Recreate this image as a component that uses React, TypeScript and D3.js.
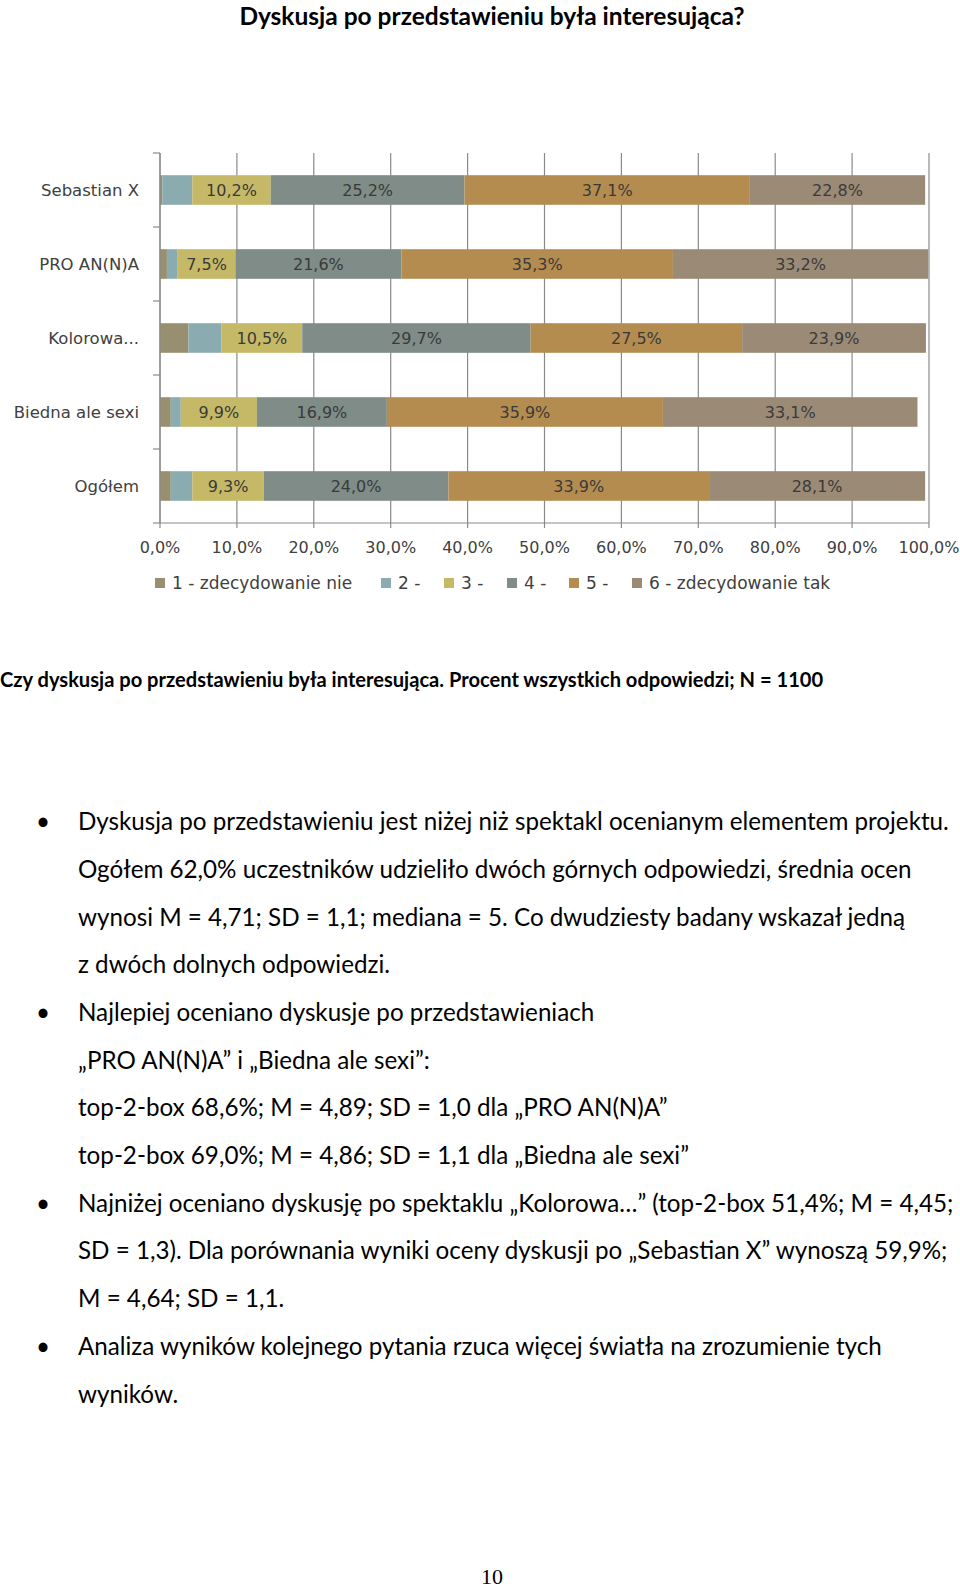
import React from "react";
import * as d3 from "d3";

const categories = ["Sebastian X", "PRO AN(N)A", "Kolorowa...", "Biedna ale sexi", "Ogółem"];
const seriesNames = ["1 - zdecydowanie nie", "2 -", "3 -", "4 -", "5 -", "6 - zdecydowanie tak"];
const s1 = [0.3, 0.9, 3.7, 1.4, 1.4];
const s2 = [3.9, 1.4, 4.3, 1.3, 2.8];
const s3 = [10.2, 7.5, 10.5, 9.9, 9.3];
const s4 = [25.2, 21.6, 29.7, 16.9, 24.0];
const s5 = [37.1, 35.3, 27.5, 35.9, 33.9];
const s6 = [22.8, 33.2, 23.9, 33.1, 28.1];
const labelledSeries = [false, false, true, true, true, true];
const xTicks = [0, 10, 20, 30, 40, 50, 60, 70, 80, 90, 100];

const colors = ["#978f6f", "#8aabb0", "#c5b967", "#7f8c88", "#b48c50", "#9a8a76"];

const titleText = "Dyskusja po przedstawieniu była interesująca?";
const captionText = "Czy dyskusja po przedstawieniu była interesująca. Procent wszystkich odpowiedzi; N = 1100";
const bodyLines: { text: string; bullet: boolean }[] = [
  { text: "Dyskusja po przedstawieniu jest niżej niż spektakl ocenianym elementem projektu.", bullet: true },
  { text: "Ogółem 62,0% uczestników udzieliło dwóch górnych odpowiedzi, średnia ocen", bullet: false },
  { text: "wynosi M = 4,71; SD = 1,1; mediana = 5. Co dwudziesty badany wskazał jedną", bullet: false },
  { text: "z dwóch dolnych odpowiedzi.", bullet: false },
  { text: "Najlepiej oceniano dyskusje po przedstawieniach", bullet: true },
  { text: "„PRO AN(N)A” i „Biedna ale sexi”:", bullet: false },
  { text: "top-2-box 68,6%; M = 4,89; SD = 1,0 dla „PRO AN(N)A”", bullet: false },
  { text: "top-2-box 69,0%; M = 4,86; SD = 1,1 dla „Biedna ale sexi”", bullet: false },
  { text: "Najniżej oceniano dyskusję po spektaklu „Kolorowa…” (top-2-box 51,4%; M = 4,45;", bullet: true },
  { text: "SD = 1,3). Dla porównania wyniki oceny dyskusji po „Sebastian X” wynoszą 59,9%;", bullet: false },
  { text: "M = 4,64; SD = 1,1.", bullet: false },
  { text: "Analiza wyników kolejnego pytania rzuca więcej światła na zrozumienie tych", bullet: true },
  { text: "wyników.", bullet: false },
];
const pageNumber = "10";

const W = 960;
const H = 1590;

export default function App() {
  const plotTop = 153;
  const plotBottom = 523;
  const plotLeft = 160;
  const plotRight = 929;

  const x = d3.scaleLinear().domain([0, 100]).range([plotLeft, plotRight]);
  const y = d3
    .scaleBand<string>()
    .domain(categories)
    .range([plotTop, plotBottom])
    .paddingInner(0.6)
    .paddingOuter(0.3);

  const seriesArrays = [s1, s2, s3, s4, s5, s6];
  const rows = categories.map((c, i) => {
    const obj: any = { cat: c };
    seriesArrays.forEach((arr, k) => (obj["s" + k] = arr[i]));
    return obj;
  });
  const stack = d3.stack<any>().keys(seriesArrays.map((_, k) => "s" + k));
  const stacked = stack(rows);

  const fmt = (v: number) => v.toFixed(1).replace(".", ",") + "%";
  const gridColor = "#8a8a8a";
  const chartFont = "'DejaVu Sans', sans-serif";
  const textColor = "#404040";

  const boundaries = d3.range(categories.length + 1).map((i) => plotTop + (i * (plotBottom - plotTop)) / categories.length);

  const legendX = [155, 381, 444, 507, 569, 632];
  const legendY = 583;

  const bodyFont = "Lato, 'Open Sans', sans-serif";
  const lineY0 = 824;
  const lineStep = 47.7;

  return (
    <svg
      width={W}
      height={H}
      viewBox={`0 0 ${W} ${H}`}
      style={{ position: "absolute", left: 0, top: 0, background: "#fff" }}
    >
      <rect x={0} y={0} width={W} height={H} fill="#fff" />
      <text
        x={492}
        y={25}
        textAnchor="middle"
        fontFamily={bodyFont}
        fontWeight={700}
        fontSize={24.5}
        fill="#000"
      >
        {titleText}
      </text>

      {/* grid lines */}
      <g>
        {xTicks.map((t) => (
          <line
            key={"g" + t}
            x1={x(t)}
            x2={x(t)}
            y1={plotTop}
            y2={plotBottom + 5}
            stroke={gridColor}
            strokeWidth={1.2}
          />
        ))}
      </g>

      {/* bars */}
      <g>
        {stacked.map((layer, k) => (
          <g key={"l" + k} fill={colors[k]}>
            {layer.map((d, i) => (
              <rect
                key={i}
                x={x(d[0])}
                y={y(categories[i])}
                width={Math.max(0, x(d[1]) - x(d[0]))}
                height={y.bandwidth()}
              />
            ))}
          </g>
        ))}
      </g>

      {/* value labels */}
      <g fontFamily={chartFont} fontSize={16} fill="#3a3a3a" textAnchor="middle">
        {stacked.map((layer, k) =>
          labelledSeries[k]
            ? layer.map((d, i) => (
                <text
                  key={k + "-" + i}
                  x={(x(d[0]) + x(d[1])) / 2}
                  y={(y(categories[i]) as number) + y.bandwidth() / 2}
                  dominantBaseline="central"
                >
                  {fmt(d[1] - d[0])}
                </text>
              ))
            : null
        )}
      </g>

      {/* y axis */}
      <line x1={plotLeft} x2={plotLeft} y1={plotTop} y2={plotBottom} stroke={gridColor} strokeWidth={1.2} />
      {boundaries.map((b, i) => (
        <line key={"yt" + i} x1={plotLeft - 7} x2={plotLeft} y1={b} y2={b} stroke={gridColor} strokeWidth={1.2} />
      ))}
      <g fontFamily={chartFont} fontSize={16.5} fill={textColor} textAnchor="end">
        {categories.map((c) => (
          <text key={c} x={139} y={(y(c) as number) + y.bandwidth() / 2} dominantBaseline="central">
            {c}
          </text>
        ))}
      </g>

      {/* x axis */}
      <line x1={plotLeft} x2={plotRight} y1={plotBottom} y2={plotBottom} stroke={gridColor} strokeWidth={1.2} />
      <g fontFamily={chartFont} fontSize={16} fill={textColor} textAnchor="middle">
        {xTicks.map((t) => (
          <text key={"xt" + t} x={x(t)} y={547} dominantBaseline="central">
            {fmt(t)}
          </text>
        ))}
      </g>

      {/* legend */}
      <g fontFamily={chartFont} fontSize={17} fill={textColor}>
        {seriesNames.map((n, k) => (
          <g key={n}>
            <rect x={legendX[k]} y={legendY - 5} width={10} height={10} fill={colors[k]} />
            <text x={legendX[k] + 17} y={legendY} dominantBaseline="central">
              {n}
            </text>
          </g>
        ))}
      </g>

      {/* caption */}
      <text x={0} y={682} dominantBaseline="middle" fontFamily={bodyFont} fontWeight={700} fontSize={20.1} fill="#000">
        {captionText}
      </text>

      {/* body */}
      <g fontFamily={bodyFont} fontSize={24.2} fill="#000">
        {bodyLines.map((l, i) => (
          <g key={"b" + i}>
            {l.bullet ? (
              <text x={43} y={lineY0 + i * lineStep} dominantBaseline="middle" textAnchor="middle">
                •
              </text>
            ) : null}
            <text x={78} y={lineY0 + i * lineStep} dominantBaseline="middle">
              {l.text}
            </text>
          </g>
        ))}
      </g>

      <text
        x={492}
        y={1584}
        textAnchor="middle"
        fontFamily="'Liberation Serif', 'Times New Roman', serif"
        fontSize={22}
        fill="#000"
      >
        {pageNumber}
      </text>
    </svg>
  );
}
